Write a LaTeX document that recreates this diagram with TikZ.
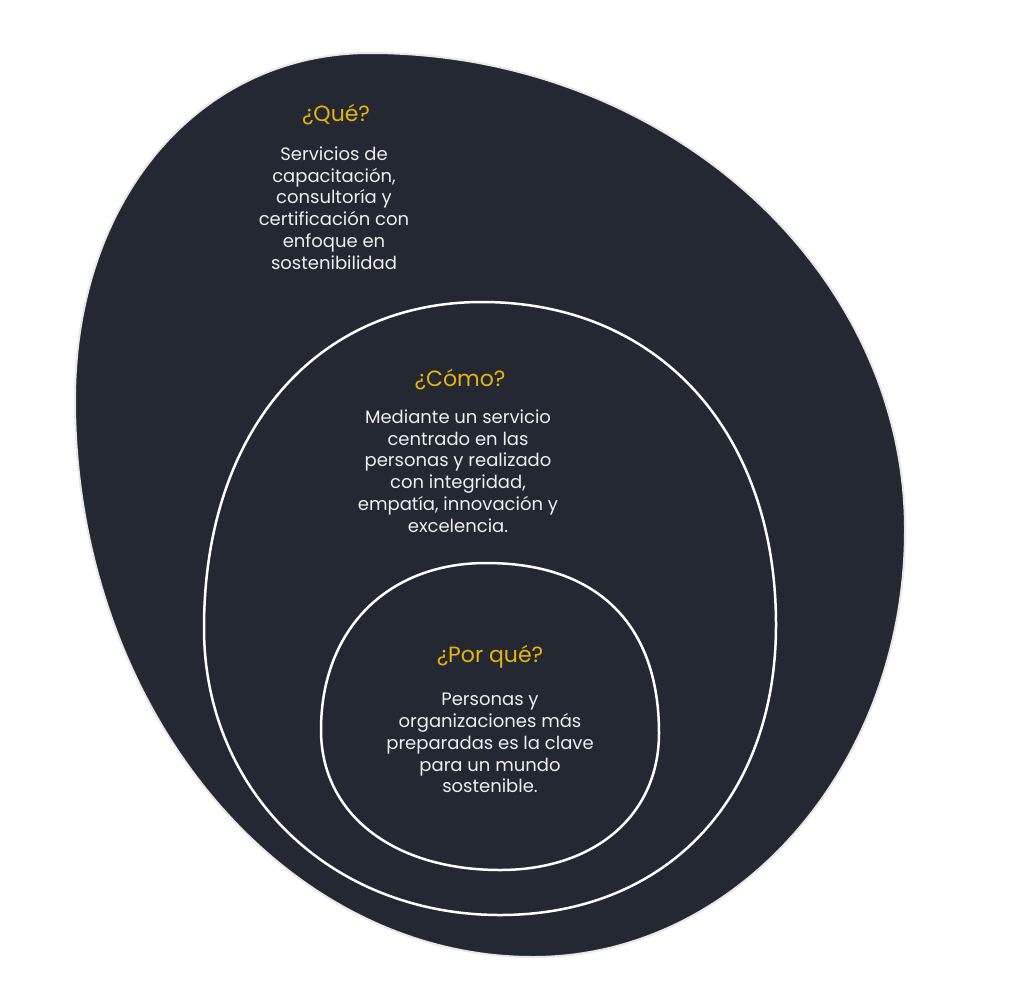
\documentclass[tikz,border=0pt]{standalone}
\usepackage{fontspec}
\setmainfont{Poppins}
\definecolor{blobfill}{RGB}{35,40,51}
\definecolor{titlegold}{RGB}{230,180,10}
\definecolor{bodytext}{RGB}{238,238,238}
\definecolor{blobedge}{RGB}{232,232,232}
\tikzset{
  blob/.style={fill=blobfill, draw=blobedge, line width=2pt, line join=round},
  ring/.style={draw=white, line width=2.5pt, line join=round},
  ttl/.style={text=titlegold, font=\fontsize{22}{26}\selectfont, inner sep=0pt},
  bodytxt/.style={text=bodytext, align=center, font=\fontsize{18}{21.8}\selectfont, inner sep=0pt},
}
\begin{document}
\begin{tikzpicture}[x=1pt,y=-1pt]
\useasboundingbox (0,0) rectangle (1024,988);
% outer blob
\draw[blob] (370,53) .. controls (664,53) and (905,268) .. (905,530)
  .. controls (905,765) and (738,957) .. (533,957)
  .. controls (281,957) and (75,706) .. (75,400)
  .. controls (75,199) and (199,53) .. (370,53) -- cycle;
% middle ring
\draw[ring] (482,302) .. controls (658,302) and (776,431) .. (776,625)
  .. controls (776,799) and (666,915) .. (500,915)
  .. controls (331,915) and (204,792) .. (204,628)
  .. controls (204,432) and (315,302) .. (482,302) -- cycle;
% inner ring
\draw[ring] (486,563) .. controls (597,563) and (659,624) .. (659,733)
  .. controls (659,815) and (595,870) .. (500,870)
  .. controls (393,870) and (321,814) .. (321,730)
  .. controls (321,630) and (387,563) .. (486,563) -- cycle;
\node[ttl] (qtitle) at (336,115) {¿Qué?};
\node[bodytxt] (qbody) at (334,208) {Servicios de\\capacitación,\\consultoría y\\certificación con\\enfoque en\\sostenibilidad};
\node[ttl] (ctitle) at (460,380) {¿Cómo?};
\node[bodytxt] (cbody) at (458,471) {Mediante un servicio\\centrado en las\\personas y realizado\\con integridad,\\empatía, innovación y\\excelencia.};
\node[ttl] (ptitle) at (490,657) {¿Por qué?};
\node[bodytxt] (pbody) at (490,743) {Personas y\\organizaciones más\\preparadas es la clave\\para un mundo\\sostenible.};
\end{tikzpicture}
\end{document}
